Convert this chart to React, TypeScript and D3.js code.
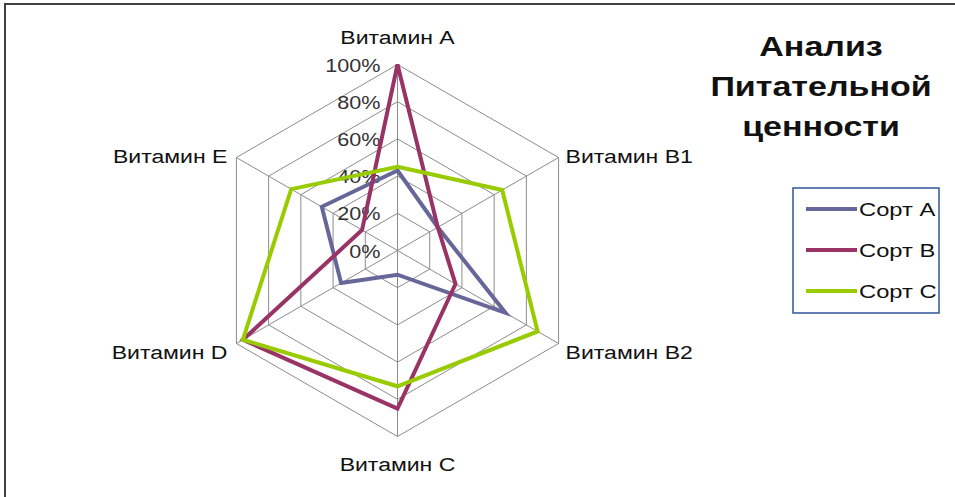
import React, { useEffect, useRef } from 'react';
import * as d3 from 'd3';

const categories = ['Витамин А', 'Витамин В1', 'Витамин В2', 'Витамин С', 'Витамин D', 'Витамин Е'];
const seriesNames = ['Сорт А', 'Сорт В', 'Сорт С'];
const sortA = [43, 25, 67, 13, 35, 47];
const sortB = [100, 25, 36, 85, 96, 22];
const sortC = [45, 65, 87, 73, 96, 66];
const ticks = [0, 20, 40, 60, 80, 100];
const titleLines = ['Анализ', 'Питательной', 'ценности'];

const colors = ['#666699', '#993366', '#99cc00'];
const FONT = 'Liberation Sans, Arial, sans-serif';

export default function App() {
  const svgRef = useRef<SVGSVGElement>(null);

  useEffect(() => {
    if (!svgRef.current) return;
    const svg = d3.select(svgRef.current);
    svg.selectAll('*').remove();

    const cx = 397.5;
    const cy = 250.5;
    const radius = 186;

    const r = d3.scaleLinear().domain([0, 100]).range([0, radius]);
    const angle = d3.scalePoint<string>()
      .domain(categories)
      .range([0, (2 * Math.PI * (categories.length - 1)) / categories.length]);

    // text in the picture is drawn wide, so stretch it horizontally
    const wideText = (g: d3.Selection<any, unknown, null, undefined>, x: number, y: number, txt: string, size: number, anchor: string, sx: number, weight = 'normal', fill = '#111') =>
      g.append('text')
        .attr('transform', `translate(${x},${y}) scale(${sx},1)`)
        .attr('text-anchor', anchor)
        .attr('font-family', FONT)
        .attr('font-size', size)
        .attr('font-weight', weight)
        .attr('fill', fill)
        .text(txt);

    // outer frame
    svg.append('rect')
      .attr('x', 5).attr('y', 4)
      .attr('width', 1000).attr('height', 600)
      .attr('fill', 'white')
      .attr('stroke', '#404040')
      .attr('stroke-width', 2);

    const g = svg.append('g').attr('transform', `translate(${cx},${cy})`);

    // grid hexagons
    const gridLine = d3.lineRadial<string>()
      .angle(d => angle(d)!)
      .curve(d3.curveLinearClosed);
    ticks.slice(1).forEach(t => {
      g.append('path')
        .attr('d', gridLine.radius(() => r(t))(categories))
        .attr('fill', 'none')
        .attr('stroke', '#8c8c8c')
        .attr('stroke-width', 1);
    });

    // spokes
    categories.forEach(c => {
      const a = angle(c)!;
      g.append('line')
        .attr('x1', 0).attr('y1', 0)
        .attr('x2', r(100) * Math.sin(a))
        .attr('y2', -r(100) * Math.cos(a))
        .attr('stroke', '#8c8c8c')
        .attr('stroke-width', 1);
    });

    // percent labels
    ticks.forEach(t => {
      wideText(g, -17, -r(t) + 7, `${t}%`, 18, 'end', 1.2, 'normal', '#333');
    });

    // series
    [sortA, sortB, sortC].forEach((vals, i) => {
      const line = d3.lineRadial<number>()
        .angle((_, j) => angle(categories[j])!)
        .radius(d => r(d))
        .curve(d3.curveLinearClosed);
      g.append('path')
        .attr('d', line(vals))
        .attr('fill', 'none')
        .attr('stroke', colors[i])
        .attr('stroke-width', 4)
        .attr('stroke-linejoin', 'miter');
    });

    // category labels
    categories.forEach(c => {
      const a = angle(c)!;
      const x = r(100) * Math.sin(a);
      const y = -r(100) * Math.cos(a);
      const s = Math.sin(a);
      const co = Math.cos(a);
      let anchor = 'middle';
      let dx = 0;
      let dy = 0;
      if (s > 0.1) { anchor = 'start'; dx = 7; }
      else if (s < -0.1) { anchor = 'end'; dx = -9; }
      if (Math.abs(s) <= 0.1) dy = co > 0 ? -21 : 34;
      else dy = co > 0 ? 5 : 15;
      wideText(g, x + dx, y + dy, c, 18, anchor, 1.28);
    });

    // title
    titleLines.forEach((t, i) => {
      wideText(svg as any, 821, 56 + i * 40, t, 27, 'middle', 1.26, 'bold');
    });

    // legend
    const lg = svg.append('g');
    lg.append('rect')
      .attr('x', 793).attr('y', 188)
      .attr('width', 146).attr('height', 125)
      .attr('fill', 'white')
      .attr('stroke', '#2f5597')
      .attr('stroke-width', 1.5);
    seriesNames.forEach((n, i) => {
      const y = 209 + i * 41;
      lg.append('line')
        .attr('x1', 806).attr('x2', 857)
        .attr('y1', y).attr('y2', y)
        .attr('stroke', colors[i])
        .attr('stroke-width', 4);
      wideText(lg as any, 859, y + 7, n, 18, 'start', 1.32);
    });
  }, []);

  return (
    <svg
      ref={svgRef}
      width={955}
      height={497}
      style={{ position: 'absolute', left: 0, top: 0, background: 'white' }}
    />
  );
}
